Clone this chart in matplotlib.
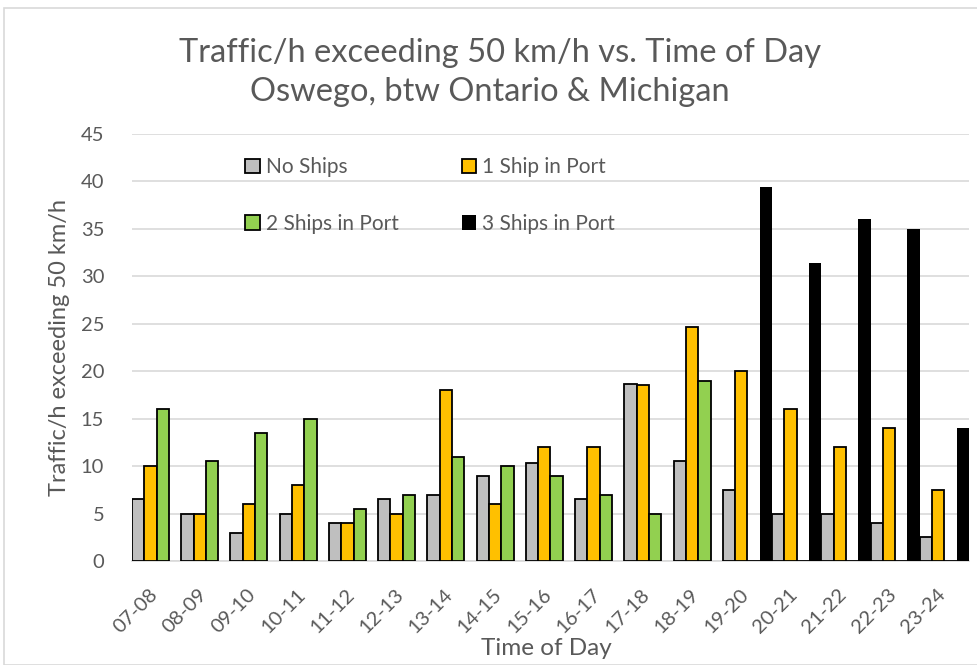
import numpy as np
import matplotlib.pyplot as plt
from matplotlib.patches import Rectangle
from matplotlib.transforms import ScaledTranslation

# ──────────────────────────────────────────────────────────────
# Data
# ──────────────────────────────────────────────────────────────
hours = ["07-08", "08-09", "09-10", "10-11", "11-12", "12-13", "13-14",
         "14-15", "15-16", "16-17", "17-18", "18-19", "19-20", "20-21",
         "21-22", "22-23", "23-24"]
no_ships = [6.5, 5, 3, 5, 4, 6.5, 7, 9, 10.3, 6.5, 18.7, 10.5, 7.5, 5, 5, 4, 2.5]
one_ship = [10, 5, 6, 8, 4, 5, 18, 6, 12, 12, 18.5, 24.7, 20, 16, 12, 14, 7.5]
two_ships = [16, 10.5, 13.5, 15, 5.5, 7, 11, 10, 9, 7, 5, 19, 0, 0, 0, 0, 0]
three_ships = [0, 0, 0, 0, 0, 0, 0, 0, 0, 0, 0, 0, 39.4, 31.4, 36, 35, 14]

series = [
    ("No Ships", no_ships, "#bfbfbf"),
    ("1 Ship in Port", one_ship, "#ffc000"),
    ("2 Ships in Port", two_ships, "#92d050"),
    ("3 Ships in Port", three_ships, "#000000"),
]

TXT = "#595959"
plt.rcParams["font.family"] = ["Lato", "DejaVu Sans"]

fig = plt.figure(figsize=(9.78, 6.65), dpi=100)
ax = fig.add_axes([132 / 978, 1 - 561 / 665, (969 - 132) / 978, (561 - 134) / 665])

x = np.arange(len(hours))
w = 0.25
bars = []
for k, (name, vals, col) in enumerate(series):
    ec = "none" if col == "#000000" else "black"
    b = ax.bar(x + (k - 1.5) * w, vals, width=w, color=col, edgecolor=ec,
               linewidth=1.3, label=name, zorder=3)
    bars.append(b)

ax.set_xlim(-0.5, len(hours) - 0.5)
ax.set_ylim(0, 45)
ax.set_yticks(np.arange(0, 46, 5))
ax.grid(axis="y", color="#d9d9d9", linewidth=1.2, zorder=0)
for s in ["top", "right", "left"]:
    ax.spines[s].set_visible(False)
ax.spines["bottom"].set_color("#d9d9d9")
ax.spines["bottom"].set_linewidth(1.2)
ax.tick_params(axis="both", length=0, labelsize=14.5, colors=TXT)
ax.tick_params(axis="y", pad=20)
ax.set_xticks(x)
ax.set_xticklabels(hours, rotation=45, ha="right", va="top",
                   rotation_mode="anchor")
ax.tick_params(axis="x", pad=18)
shift = ScaledTranslation(-8 / 100, 0, fig.dpi_scale_trans)
for lab in ax.get_xticklabels():
    lab.set_transform(lab.get_transform() + shift)

ax.set_ylabel("Traffic/h exceeding 50 km/h", fontsize=17, color=TXT, labelpad=8)
ax.set_xlabel("Time of Day", fontsize=17.5, color=TXT)
ax.xaxis.set_label_coords(0.495, -0.204)
ax.xaxis.label.set_va("center")

fig.text(0.511, 0.921, "Traffic/h exceeding 50 km/h vs. Time of Day",
         ha="center", va="center", fontsize=23.5, color=TXT)
fig.text(0.501, 0.862, "Oswego, btw Ontario & Michigan",
         ha="center", va="center", fontsize=23.5, color=TXT)

# row-wise legend order: No Ships, 1 Ship / 2 Ships, 3 Ships
order = [0, 2, 1, 3]
leg = ax.legend([bars[i] for i in order], [series[i][0] for i in order],
                ncol=2, loc="upper left", frameon=False, fontsize=15,
                bbox_to_anchor=(235 / 978, 1 - 147 / 665),
                bbox_transform=fig.transFigure,
                handlelength=0.7, handleheight=0.7, handletextpad=0.3,
                columnspacing=3.0, labelspacing=1.75, borderpad=0)
for t in leg.get_texts():
    t.set_color(TXT)

# outer chart border
fig.patches.append(Rectangle((4 / 978, 0), 1, 1 - 8 / 665, transform=fig.transFigure,
                             fill=False, edgecolor="#d9d9d9", linewidth=1.2))

fig.savefig("out.png", dpi=100)
